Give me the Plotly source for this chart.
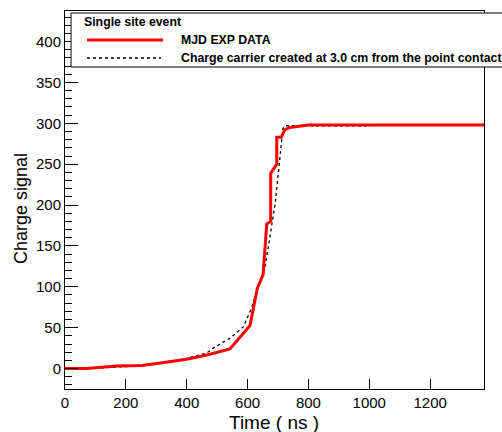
import plotly.graph_objects as go

# Measured waveform (MJD experimental data)
data_t = [0, 71, 170, 252, 320, 400, 470, 542, 608, 632, 651, 663, 676, 676,
          696, 696, 711, 722, 739, 772, 800, 1400]
data_q = [0, 0, 3, 3.7, 7, 11.5, 17, 24, 52.6, 98, 115, 177, 180, 239,
          250, 283, 283, 292, 295, 297, 298, 298]

# Simulated signal, charge carrier created 3.0 cm from the point contact
sim_t = [0, 100, 202, 300, 400, 465, 487, 542, 586, 613, 635, 657, 673, 690,
         700, 711, 716, 725, 1007]
sim_q = [0, 0.5, 2.5, 6, 12.5, 18.8, 25, 37, 51, 74, 100, 123, 160, 200,
         235, 280, 294, 297, 297]

x_ticks = [0, 200, 400, 600, 800, 1000, 1200]
y_ticks = [0, 50, 100, 150, 200, 250, 300, 350, 400]

legend_title = "Single site event"
data_name = "MJD EXP DATA"
sim_name = "Charge carrier created at 3.0 cm from the point contact"

W, H = 502, 432
ML, MR, MT, MB = 65, 18, 11, 43
PW, PH = W - ML - MR, H - MT - MB
FONT = "Liberation Sans, Arial, Helvetica, sans-serif"


def px(x):
    return (x - ML) / PW


def py(y):
    return (H - MB - y) / PH


fig = go.Figure()
fig.add_trace(go.Scatter(x=sim_t, y=sim_q, mode="lines", name=sim_name,
                         line=dict(color="black", width=1.3, dash="3px,3px")))
fig.add_trace(go.Scatter(x=data_t, y=data_q, mode="lines", name=data_name,
                         line=dict(color="#ff0000", width=3)))

axis_common = dict(showline=True, linecolor="black", linewidth=1, mirror=True,
                   showgrid=False, zeroline=False, ticks="inside",
                   tickcolor="black", tickwidth=1,
                   tickfont=dict(family=FONT, size=15, color="black"))

fig.update_xaxes(range=[0, 1377], tickvals=x_ticks, ticklen=10, **axis_common)
fig.update_yaxes(range=[-25, 437.4], tickvals=y_ticks, ticklen=13,
                 minor=dict(dtick=10, tick0=0, ticks="inside", ticklen=7,
                            tickcolor="black", tickwidth=1),
                 **axis_common)

shapes = [
    # legend frame
    dict(type="rect", xref="paper", yref="paper", x0=px(71), x1=px(530),
         y0=py(67), y1=py(13), line=dict(color="black", width=1),
         fillcolor="white", layer="above"),
    dict(type="line", xref="paper", yref="paper", x0=px(87), x1=px(163),
         y0=py(40), y1=py(40), line=dict(color="#ff0000", width=3)),
    dict(type="line", xref="paper", yref="paper", x0=px(87), x1=px(161),
         y0=py(58), y1=py(58), line=dict(color="black", width=1.3, dash="3px,3px")),
]

lab = dict(family=FONT, size=12.3, color="black")
annotations = [
    dict(text="<b>" + legend_title + "</b>", x=px(82), y=py(22), xref="paper",
         yref="paper", xanchor="left", yanchor="middle", showarrow=False, font=lab),
    dict(text="<b>" + data_name + "</b>", x=px(179), y=py(40), xref="paper",
         yref="paper", xanchor="left", yanchor="middle", showarrow=False, font=lab),
    dict(text="<b>" + sim_name + "</b>", x=px(179), y=py(58), xref="paper",
         yref="paper", xanchor="left", yanchor="middle", showarrow=False, font=lab),
    dict(text="Time ( ns )", x=px(274), y=py(422.5), xref="paper", yref="paper",
         xanchor="center", yanchor="middle", showarrow=False,
         font=dict(family=FONT, size=19, color="black")),
    dict(text="Charge signal", x=px(21), y=py(209), xref="paper", yref="paper",
         xanchor="center", yanchor="middle", showarrow=False, textangle=-90,
         font=dict(family=FONT, size=18, color="black")),
]

fig.update_layout(width=W, height=H, margin=dict(l=ML, r=MR, t=MT, b=MB),
                  paper_bgcolor="white", plot_bgcolor="white", showlegend=False,
                  shapes=shapes, annotations=annotations)

fig.write_html("out.html")
